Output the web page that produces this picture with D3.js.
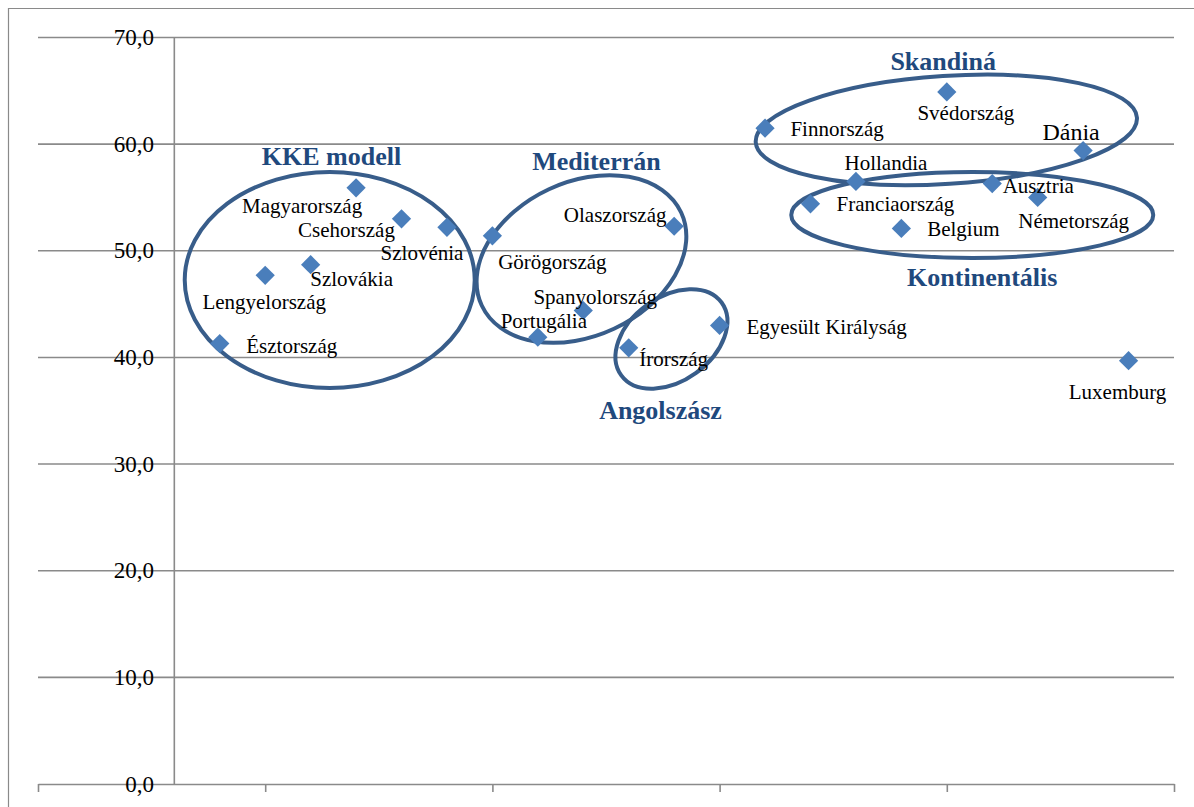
<!DOCTYPE html>
<html>
<head>
<meta charset="utf-8">
<script src="https://cdn.jsdelivr.net/npm/d3@7"></script>
<style>
  html, body { margin: 0; padding: 0; background: #ffffff; }
  svg { display: block; }
</style>
</head>
<body>
<svg id="chart" width="1194" height="807"></svg>
<script>
// Countries in plotting order along the horizontal axis
const countries = ["Észtország", "Lengyelország", "Szlovákia", "Magyarország", "Csehország",
  "Szlovénia", "Görögország", "Portugália", "Spanyolország", "Írország", "Olaszország",
  "Egyesült Királyság", "Finnország", "Franciaország", "Hollandia", "Belgium", "Svédország",
  "Ausztria", "Németország", "Dánia", "Luxemburg"];
// Horizontal position of each country
const xValues = [4, 5, 6, 7, 8, 9, 10, 11, 12, 13, 14, 15, 16, 17, 18, 19, 20, 21, 22, 23, 24];
// Indicator value of each country
const values = [41.3, 47.7, 48.7, 55.9, 53.0, 52.2, 51.4, 41.9, 44.4, 40.9, 52.3, 43.0,
  61.5, 54.4, 56.5, 52.1, 64.9, 56.3, 55.0, 59.4, 39.7];
// Vertical axis ticks and their labels
const yTicks = [0, 10, 20, 30, 40, 50, 60, 70];
const yTickLabels = ["0,0", "10,0", "20,0", "30,0", "40,0", "50,0", "60,0", "70,0"];
const xTicks = [0, 5, 10, 15, 20, 25];
// Welfare-model groups
const groupNames = ["KKE modell", "Mediterrán", "Angolszász", "Skandiná", "Kontinentális"];

// ---- layout (pixel offsets, sizes) ----
const labelOffset = {
  "Észtország": [72, 2], "Lengyelország": [-1, 27], "Szlovákia": [41, 14],
  "Magyarország": [-54, 18], "Csehország": [-55, 11], "Szlovénia": [-25, 26],
  "Görögország": [60, 26], "Portugália": [6, -16], "Spanyolország": [12, -14],
  "Írország": [45, 11], "Olaszország": [-59, -11], "Egyesült Királyság": [107, 2],
  "Finnország": [72, 1], "Franciaország": [85, 0], "Hollandia": [30, -18],
  "Belgium": [62, 1], "Svédország": [19, 21], "Ausztria": [46, 2],
  "Németország": [36, 24], "Dánia": [-12, -19], "Luxemburg": [-11, 31]
};
const labelSize = { "Dánia": 24 };
// ring centre (data units), radii (px), rotation (deg); label anchor (data units)
const groupRing = [
  { c: [6.42, 47.26], r: [145, 108], a: 0, t: [6.46, 58.83] },
  { c: [11.96, 49.23], r: [110, 77], a: -25, t: [12.29, 58.36] },
  { c: [13.94, 41.73], r: [62, 42], a: -36, t: [13.70, 35.07] },
  { c: [19.99, 61.33], r: [191, 54], a: -3.7, t: [19.92, 67.73] },
  { c: [20.56, 53.36], r: [181, 43], a: 0, t: [20.78, 47.45] }
];

const serif = "'Liberation Serif', 'Times New Roman', serif";
const svg = d3.select("#chart");
const gridColor = "#8a8a8a";

const x = d3.scaleLinear().domain([0, 25]).range([38, 1174]);
const y = d3.scaleLinear().domain([0, 70]).range([784, 37.5]);

// outer frame
svg.append("path")
  .attr("d", "M8.5,807 V8.5 H1194")
  .attr("fill", "none").attr("stroke", gridColor).attr("stroke-width", 1.2);

// horizontal gridlines
svg.append("g").selectAll("line").data(yTicks.slice(1)).join("line")
  .attr("x1", x(0)).attr("x2", x(25))
  .attr("y1", d => y(d)).attr("y2", d => y(d))
  .attr("stroke", gridColor).attr("stroke-width", 1.6);

// horizontal axis with downward ticks, no labels
const xAxis = svg.append("g").attr("transform", `translate(0,${y(0)})`)
  .call(d3.axisBottom(x).tickValues(xTicks).tickSize(8).tickSizeOuter(0).tickFormat(""));
xAxis.select(".domain").attr("stroke", gridColor).attr("stroke-width", 1.6);
xAxis.selectAll(".tick line").attr("stroke", gridColor).attr("stroke-width", 1.6);

// vertical axis line crossing at x = 3
svg.append("line")
  .attr("x1", x(3)).attr("x2", x(3)).attr("y1", y(70)).attr("y2", y(0))
  .attr("stroke", gridColor).attr("stroke-width", 1.6);

// vertical tick labels
svg.append("g").selectAll("text").data(yTicks).join("text")
  .attr("x", 154).attr("y", d => y(d))
  .attr("text-anchor", "end").attr("dominant-baseline", "central")
  .attr("font-family", serif).attr("font-size", 23).attr("fill", "#000")
  .text((d, i) => yTickLabels[i]);

// group rings
const rings = svg.append("g");
groupRing.forEach(g => {
  rings.append("ellipse")
    .attr("transform", `translate(${x(g.c[0])},${y(g.c[1])}) rotate(${g.a})`)
    .attr("rx", g.r[0]).attr("ry", g.r[1])
    .attr("fill", "none").attr("stroke", "#385D8A").attr("stroke-width", 4);
});

// country markers
const pts = countries.map((name, i) => ({ name, xv: xValues[i], v: values[i] }));
svg.append("g").selectAll("path").data(pts).join("path")
  .attr("d", d3.symbol(d3.symbolSquare, 185))
  .attr("transform", d => `translate(${x(d.xv)},${y(d.v)}) rotate(45)`)
  .attr("fill", "#4A7EBB");

// country labels
svg.append("g").selectAll("text").data(pts).join("text")
  .attr("x", d => x(d.xv) + labelOffset[d.name][0])
  .attr("y", d => y(d.v) + labelOffset[d.name][1])
  .attr("text-anchor", "middle").attr("dominant-baseline", "central")
  .attr("font-family", serif)
  .attr("font-size", d => labelSize[d.name] || 21).attr("fill", "#000")
  .text(d => d.name);

// group titles
svg.append("g").selectAll("text").data(groupNames).join("text")
  .attr("x", (d, i) => x(groupRing[i].t[0]))
  .attr("y", (d, i) => y(groupRing[i].t[1]))
  .attr("text-anchor", "middle").attr("dominant-baseline", "central")
  .attr("font-family", serif)
  .attr("font-size", 26).attr("font-weight", "bold").attr("fill", "#1F497D")
  .text(d => d);
</script>
</body>
</html>
